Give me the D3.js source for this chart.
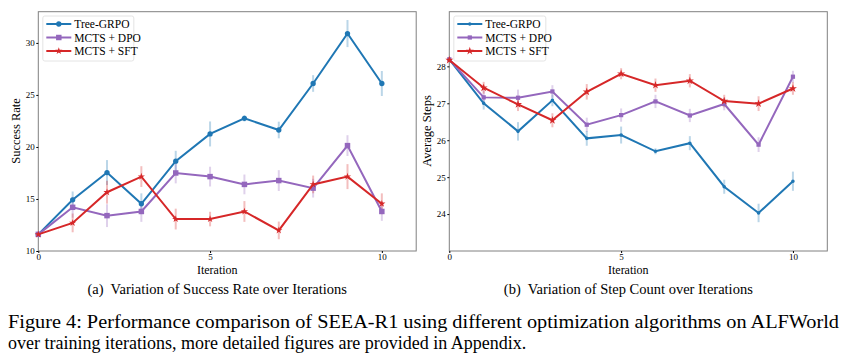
<html lang="en">
<head>
  <meta charset="UTF-8">
  <title>Tree-GRPO vs MCTS</title>
  <style>
    body { margin: 0; background: #fff; }
    svg text { font-family: "Liberation Serif", "Times New Roman", serif; fill: #000; }
  </style>
</head>
<body>
  <svg id="fig" width="848" height="361"></svg>

  <script src="https://d3js.org/d3.v7.min.js"></script>
  <script>
    const iterations = [0, 1, 2, 3, 4, 5, 6, 7, 8, 9, 10];
    const seriesNames = ["Tree-GRPO", "MCTS + DPO", "MCTS + SFT"];
    const seriesColors = ["#1f77b4", "#9467bd", "#d62728"];

    // success rate (panel a)
    const successGRPO = [11.6, 14.92, 17.54, 14.54, 18.63, 21.25, 22.75, 21.63, 26.1, 30.9, 26.1];
    const successGRPOErr = [0, 0.8, 1.2, 1.0, 1.0, 1.2, 0.3, 0.8, 0.8, 1.3, 1.2];
    const successDPO = [11.6, 14.2, 13.4, 13.8, 17.5, 17.15, 16.4, 16.77, 16.04, 20.13, 13.8];
    const successDPOErr = [0, 1.0, 1.1, 1.0, 1.0, 0.95, 0.95, 1.0, 0.9, 1.0, 0.9];
    const successSFT = [11.6, 12.7, 15.65, 17.15, 13.07, 13.07, 13.8, 11.98, 16.4, 17.15, 14.54];
    const successSFTErr = [0, 0.9, 1.1, 1.0, 1.0, 0.7, 1.0, 0.85, 0.85, 1.2, 1.0];

    // average steps (panel b)
    const stepsGRPO = [28.19, 27.0, 26.24, 27.08, 26.05, 26.14, 25.7, 25.92, 24.74, 24.03, 24.89];
    const stepsGRPOErr = [0, 0.17, 0.25, 0.16, 0.2, 0.23, 0.08, 0.19, 0.19, 0.25, 0.26];
    const stepsDPO = [28.19, 27.16, 27.15, 27.32, 26.42, 26.68, 27.05, 26.67, 26.98, 25.88, 27.72];
    const stepsDPOErr = [0, 0.19, 0.22, 0.17, 0.19, 0.18, 0.18, 0.18, 0.17, 0.2, 0.16];
    const stepsSFT = [28.17, 27.42, 26.97, 26.54, 27.31, 27.8, 27.49, 27.61, 27.06, 26.99, 27.4];
    const stepsSFTErr = [0, 0.16, 0.18, 0.19, 0.21, 0.15, 0.18, 0.18, 0.17, 0.2, 0.17];

    const xTicks = [0, 5, 10];
    const successTicks = [10, 15, 20, 25, 30];
    const stepsTicks = [24, 25, 26, 27, 28];

    const svg = d3.select("#fig");
    const serif = "Liberation Serif, Times New Roman, serif";

    function drawPanel(opts) {
      const g = svg.append("g");
      const x = d3.scaleLinear().domain([0, 11]).range([opts.left, opts.right]);
      const y = d3.scaleLinear().domain(opts.yDomain).range([251, 11.7]);

      // frame
      g.append("rect")
        .attr("x", opts.left).attr("y", 11.7)
        .attr("width", opts.right - opts.left).attr("height", 251 - 11.7)
        .attr("fill", "none").attr("stroke", "#808080").attr("stroke-width", 1);

      const xAxis = d3.axisBottom(x).tickValues(xTicks).tickFormat(d3.format("d"))
        .tickSize(2).tickPadding(0.5);
      g.append("g").attr("transform", "translate(0,251)").call(xAxis)
        .attr("font-family", serif)
        .call(a => a.select(".domain").remove())
        .call(a => a.selectAll("text").style("font-size", "9px"));

      const yAxis = d3.axisLeft(y).tickValues(opts.yTicks).tickFormat(d3.format("d"))
        .tickSize(2).tickPadding(1.5);
      g.append("g").attr("transform", "translate(" + opts.left + ",0)").call(yAxis)
        .attr("font-family", serif)
        .call(a => a.select(".domain").remove())
        .call(a => a.selectAll("text").style("font-size", "9px"));

      g.append("text")
        .attr("x", (opts.left + opts.right) / 2 - 10).attr("y", 273.5)
        .attr("text-anchor", "middle").style("font-size", "12px")
        .text("Iteration");

      g.append("text")
        .attr("transform", "translate(" + opts.yLabelX + ",131) rotate(-90)")
        .attr("text-anchor", "middle").style("font-size", "12.5px")
        .text(opts.yLabel);

      g.append("text")
        .attr("x", (opts.left + opts.right) / 2 - 10).attr("y", 294)
        .attr("text-anchor", "middle").style("font-size", "14.5px")
        .attr("xml:space", "preserve")
        .text(opts.caption);

      const line = d3.line().x((d, i) => x(iterations[i])).y(d => y(d));

      opts.series.forEach((s, k) => {
        const color = seriesColors[k];
        // error bars
        g.selectAll(null).data(s.values).enter().append("line")
          .attr("x1", (d, i) => x(iterations[i])).attr("x2", (d, i) => x(iterations[i]))
          .attr("y1", (d, i) => y(d - s.err[i])).attr("y2", (d, i) => y(d + s.err[i]))
          .attr("stroke", color).attr("stroke-opacity", 0.3).attr("stroke-width", 2);
      });

      opts.series.forEach((s, k) => {
        const color = seriesColors[k];
        g.append("path").datum(s.values)
          .attr("d", line).attr("fill", "none")
          .attr("stroke", color).attr("stroke-width", 2);
        g.selectAll(null).data(s.values).enter().append("path")
          .attr("transform", (d, i) => "translate(" + x(iterations[i]) + "," + y(d) + ")")
          .attr("d", d3.symbol().type(opts.symbols[k]).size(opts.symbolSizes[k]))
          .attr("fill", color);
      });

      // legend
      const lg = g.append("g");
      lg.append("rect")
        .attr("x", opts.left + 4.5).attr("y", 16)
        .attr("width", opts.legendW).attr("height", 45).attr("rx", 2)
        .attr("fill", "#fff").attr("fill-opacity", 0.8)
        .attr("stroke", "#dddddd").attr("stroke-width", 0.8);
      seriesNames.forEach((name, k) => {
        const ly = 24 + k * 13.5;
        lg.append("line")
          .attr("x1", opts.left + 8).attr("x2", opts.left + 33)
          .attr("y1", ly).attr("y2", ly)
          .attr("stroke", seriesColors[k]).attr("stroke-width", 2);
        lg.append("path")
          .attr("transform", "translate(" + (opts.left + 20.5) + "," + ly + ")")
          .attr("d", d3.symbol().type(opts.symbols[k]).size(opts.symbolSizes[k]))
          .attr("fill", seriesColors[k]);
        lg.append("text")
          .attr("x", opts.left + 36).attr("y", ly + 4)
          .style("font-size", "11.5px")
          .text(name);
      });
    }

    drawPanel({
      left: 38.3, right: 416.2, yDomain: [10, 33], yTicks: successTicks,
      yLabel: "Success Rate", yLabelX: 20,
      caption: "(a)  Variation of Success Rate over Iterations",
      legendW: 91,
      symbols: [d3.symbolCircle, d3.symbolSquare, d3.symbolStar],
      symbolSizes: [22, 30, 16],
      series: [
        { values: successGRPO, err: successGRPOErr },
        { values: successDPO, err: successDPOErr },
        { values: successSFT, err: successSFTErr }
      ]
    });

    drawPanel({
      left: 449.3, right: 827.3, yDomain: [23, 29.48], yTicks: stepsTicks,
      yLabel: "Average Steps", yLabelX: 431,
      caption: "(b)  Variation of Step Count over Iterations",
      legendW: 92,
      symbols: [d3.symbolCircle, d3.symbolSquare, d3.symbolStar],
      symbolSizes: [10, 18, 20],
      series: [
        { values: stepsGRPO, err: stepsGRPOErr },
        { values: stepsDPO, err: stepsDPOErr },
        { values: stepsSFT, err: stepsSFTErr }
      ]
    });

    svg.append("text")
      .attr("x", 8).attr("y", 328)
      .attr("textLength", 831).attr("lengthAdjust", "spacingAndGlyphs")
      .style("font-size", "18px")
      .text("Figure 4: Performance comparison of SEEA-R1 using different optimization algorithms on ALFWorld");
    svg.append("text")
      .attr("x", 8).attr("y", 349)
      .style("font-size", "18px")
      .text("over training iterations, more detailed figures are provided in Appendix.");
  </script>
</body>
</html>
